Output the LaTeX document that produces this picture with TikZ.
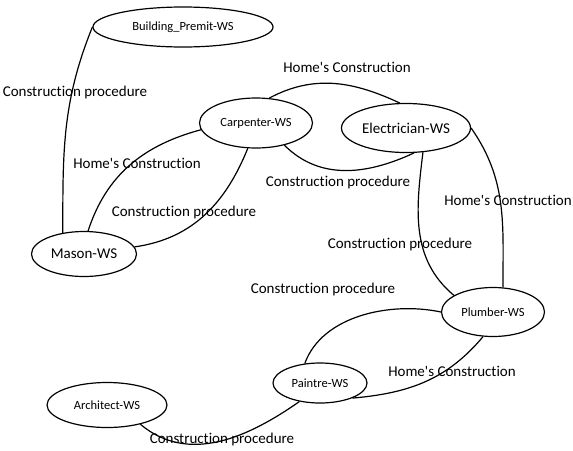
\documentclass[tikz,border=0pt]{standalone}
\usepackage{fontspec}
\setmainfont{Carlito}[Ligatures={NoCommon}]
\usepackage{tikz}
\usetikzlibrary{shapes.geometric}
\tikzset{
    wsnode/.style = {ellipse, draw=black, line width=1.2pt, inner sep=0pt,
        font=\fontsize{12.5}{14}\selectfont},
    bigws/.style = {wsnode, font=\fontsize{15}{18}\selectfont},
    flow/.style = {font=\fontsize{15}{18}\selectfont, inner sep=0pt},
    link/.style = {line width=1.2pt, black},
}
\newcommand{\homes}{Home\textquotesingle s Construction}
\begin{document}
\begin{tikzpicture}[x=1pt,y=-1pt]
        \useasboundingbox (0,0) rectangle (573,450);
        % services
        \node (permit) [wsnode, minimum width=180pt, minimum height=40pt] at (183,27) {Building\_Premit-WS};
        \node (carp) [wsnode, minimum width=113pt, minimum height=50pt] at (256,123) {Carpenter-WS};
        \node (elec) [bigws, minimum width=129pt, minimum height=49pt] at (406,128) {Electrician-WS};
        \node (mason) [bigws, minimum width=105pt, minimum height=45pt] at (84,254) {Mason-WS};
        \node (plumb) [wsnode, minimum width=103pt, minimum height=49pt] at (493,312) {Plumber-WS};
        \node (paint) [wsnode, minimum width=94pt, minimum height=40pt] at (320,383) {Paintre-WS};
        \node (arch) [wsnode, minimum width=120pt, minimum height=45pt] at (107,405) {Architect-WS};
        % links
        \draw [link] (permit.west) to[out=-112, in=90] (mason.135);
        \draw [link] (mason.80) to[out=72, in=195] (carp.187);
        \draw [link] (mason.8) to[out=8, in=-112] (carp.-108);
        \draw [link] (carp.62) to[out=28, in=155] (elec.104);
        \draw [link] (carp.-38) to[out=-45, in=-155] (elec.-72);
        \draw [link] (elec.-55) to[out=-97, in=140] (plumb.157);
        \draw [link] (elec.east) to[out=-55, in=90] (plumb.68);
        \draw [link] (plumb.west) to[out=168, in=70, looseness=0.9] (paint.128);
        \draw [link] (plumb.-112) to[out=-130, in=5] (paint.-25);
        \draw [link] (arch.-30) to[out=-40, in=-145] (paint.-138);
        % labels
        \node (l1) [flow] at (75,92) {Construction procedure};
        \node (l2) [flow] at (137,163) {\homes};
        \node (l3) [flow] at (184,212) {Construction procedure};
        \node (l4) [flow] at (347,67) {\homes};
        \node (l5) [flow] at (338,182) {Construction procedure};
        \node (l6) [flow] at (400,244) {Construction procedure};
        \node (l7) [flow] at (508,200) {\homes};
        \node (l8) [flow] at (323,289) {Construction procedure};
        \node (l9) [flow] at (452,371) {\homes};
        \node (l10) [flow] at (222,439) {Construction procedure};
\end{tikzpicture}
\end{document}
